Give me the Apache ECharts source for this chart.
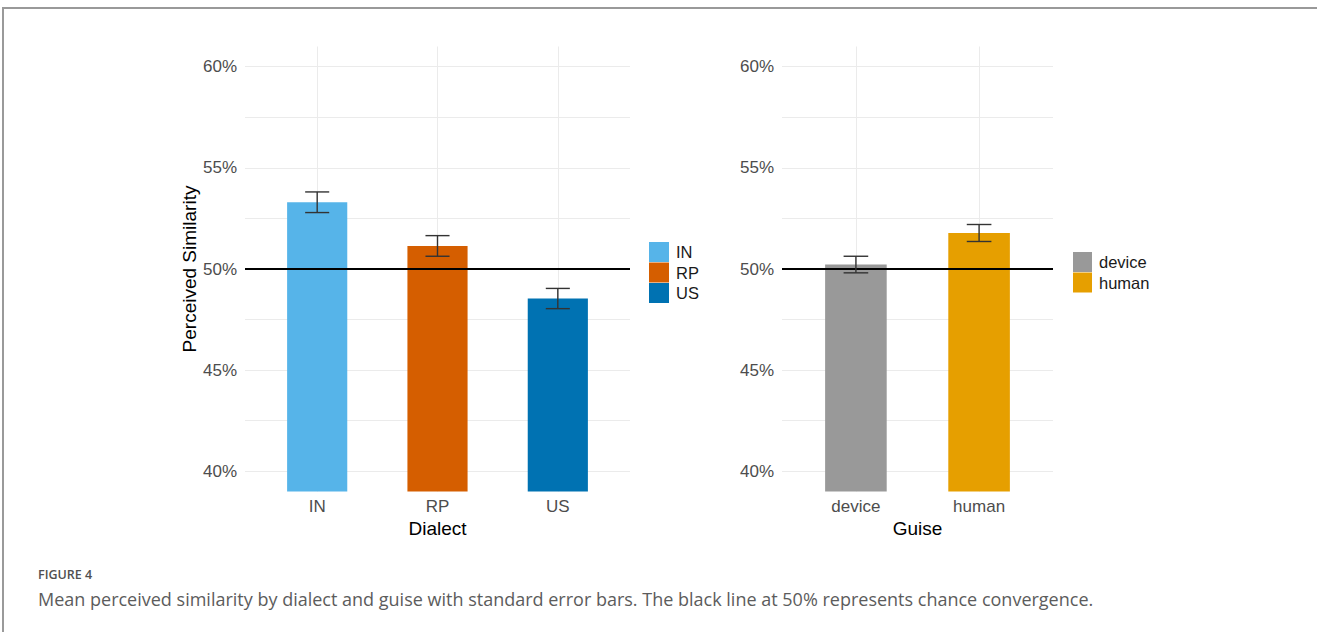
<!DOCTYPE html>
<html>
<head>
<meta charset="utf-8">
<script src="https://cdn.jsdelivr.net/npm/echarts@6/dist/echarts.min.js"></script>
<style>
  html, body { margin: 0; padding: 0; background: #fff; }
  #wrap { position: relative; width: 1317px; height: 632px; overflow: hidden; }
  #frame { position: absolute; left: 2px; top: 7px; right: -10px; bottom: -10px;
           border-top: 2px solid #999; border-left: 2px solid #9a9a9a; }
  #chart { position: absolute; left: 0; top: 0; width: 1317px; height: 632px; }
</style>
</head>
<body>
<div id="wrap"><div id="frame"></div><div id="chart"></div></div>
<script>
// Mean perceived similarity (%) with standard errors
const dialects = ['IN', 'RP', 'US'];
const dialectMeans = [53.30, 51.14, 48.54];
const dialectSE = [0.51, 0.51, 0.50];

const guises = ['device', 'human'];
const guiseMeans = [50.22, 51.78];
const guiseSE = [0.41, 0.42];

const yTickLabels = [40, 45, 50, 55, 60];
const yGridValues = [40, 42.5, 45, 47.5, 50, 52.5, 55, 57.5, 60];
const chanceLevel = 50;

const dialectColors = ['#56B4E9', '#D55E00', '#0072B2'];
const guiseColors = ['#999999', '#E69F00'];

const FONT = '"Liberation Sans", Arial, sans-serif';
const CAPTION_FONT = '"Open Sans", "Noto Sans", sans-serif';

// Panel geometry: discrete positions 0..n-1 padded by 0.6 on each side
const PAD = 0.6;
const BAR_FRACTION = 0.5;
const grids = [
  { left: 245, top: 46.5, width: 385, height: 445 },
  { left: 782, top: 46.5, width: 271, height: 445 }
];

function yAxisFor(gridIndex, name) {
  return {
    type: 'value', gridIndex, min: 39, max: 61,
    axisLine: { show: false },
    axisTick: { show: false, customValues: yGridValues },
    axisLabel: {
      customValues: yTickLabels,
      formatter: v => v + '%',
      color: '#4d4d4d', fontSize: 17, margin: 8, fontFamily: FONT
    },
    splitLine: { show: true, lineStyle: { color: '#ebebeb', width: 1 } },
    name: name || '',
    nameLocation: 'middle', nameGap: 46,
    nameTextStyle: { color: '#000', fontSize: 19, fontFamily: FONT }
  };
}

function xAxisFor(gridIndex, cats, name) {
  const idx = cats.map((_, i) => i);
  return {
    type: 'value', gridIndex, min: -PAD, max: cats.length - 1 + PAD,
    axisLine: { show: false },
    axisTick: { show: false, customValues: idx },
    axisLabel: {
      customValues: idx,
      formatter: v => cats[Math.round(v)],
      color: '#4d4d4d', fontSize: 17, margin: 6, fontFamily: FONT
    },
    splitLine: { show: true, lineStyle: { color: '#ebebeb', width: 1 } },
    name, nameLocation: 'middle', nameGap: 21,
    nameTextStyle: { color: '#000', fontSize: 19, fontFamily: FONT }
  };
}

// One bar series per level so every level gets its own legend entry
function barSeries(cats, means, colors, axisIndex) {
  const g = grids[axisIndex];
  const unit = g.width / (cats.length - 1 + 2 * PAD);
  return cats.map((c, i) => ({
    type: 'bar', name: c,
    xAxisIndex: axisIndex, yAxisIndex: axisIndex,
    data: [[i, means[i]]],
    barWidth: unit * BAR_FRACTION, barGap: '-100%',
    itemStyle: { color: colors[i] },
    z: 3, silent: true
  }));
}

function errorBarItem(params, api) {
  const x = api.value(0);
  const pHi = api.coord([x, api.value(2)]);
  const pLo = api.coord([x, api.value(1)]);
  const half = api.size([1, 0])[0] * 0.1;
  const style = { stroke: '#333333', lineWidth: 1.4, fill: null };
  return {
    type: 'group',
    children: [
      { type: 'line', shape: { x1: pHi[0], y1: pHi[1], x2: pLo[0], y2: pLo[1] }, style },
      { type: 'line', shape: { x1: pHi[0] - half, y1: pHi[1], x2: pHi[0] + half, y2: pHi[1] }, style },
      { type: 'line', shape: { x1: pLo[0] - half, y1: pLo[1], x2: pLo[0] + half, y2: pLo[1] }, style }
    ]
  };
}

// Error bars plus the black chance line at 50%
function errorSeries(means, se, axisIndex) {
  return {
    type: 'custom', xAxisIndex: axisIndex, yAxisIndex: axisIndex,
    renderItem: errorBarItem,
    encode: { x: 0, y: [1, 2] },
    data: means.map((m, i) => [i, m - se[i], m + se[i]]),
    z: 6, silent: true,
    markLine: {
      silent: true, symbol: 'none', animation: false,
      label: { show: false },
      lineStyle: { color: '#000', width: 2, type: 'solid' },
      data: [{ yAxis: chanceLevel }]
    }
  };
}

function legendFor(names, left, top, w) {
  return {
    data: names, orient: 'vertical', left, top,
    icon: 'rect', itemWidth: w, itemHeight: 20, itemGap: 0.5,
    padding: 0, selectedMode: false,
    textStyle: { color: '#1a1a1a', fontSize: 16.5, fontFamily: FONT, padding: [0, 0, 0, 2] }
  };
}

const chart = echarts.init(document.getElementById('chart'), null, { renderer: 'svg' });

chart.setOption({
  animation: false,
  backgroundColor: 'transparent',
  grid: grids,
  xAxis: [xAxisFor(0, dialects, 'Dialect'), xAxisFor(1, guises, 'Guise')],
  yAxis: [yAxisFor(0, 'Perceived Similarity'), yAxisFor(1, '')],
  legend: [
    legendFor(dialects, 649, 242, 20),
    legendFor(guises, 1073, 252, 19)
  ],
  series: [
    ...barSeries(dialects, dialectMeans, dialectColors, 0),
    ...barSeries(guises, guiseMeans, guiseColors, 1),
    errorSeries(dialectMeans, dialectSE, 0),
    errorSeries(guiseMeans, guiseSE, 1)
  ],
  graphic: [
    {
      type: 'text', left: 38, top: 568,
      style: { text: 'FIGURE 4', fill: '#505050', font: '600 12.5px ' + CAPTION_FONT }
    },
    {
      type: 'text', left: 38, top: 590,
      style: {
        text: 'Mean perceived similarity by dialect and guise with standard error bars. The black line at 50% represents chance convergence.',
        fill: '#5c5c5c', font: '18px ' + CAPTION_FONT
      }
    }
  ]
});
</script>
</body>
</html>
